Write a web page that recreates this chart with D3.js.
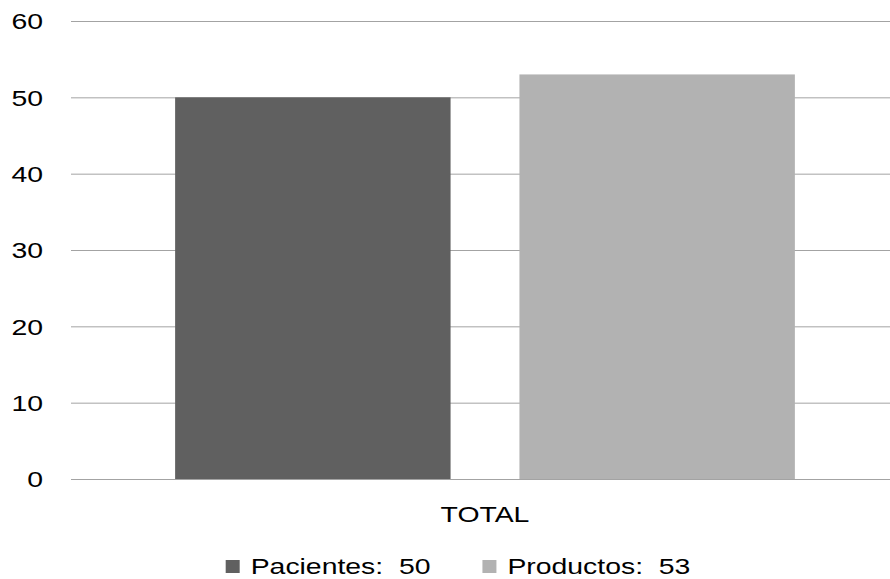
<!DOCTYPE html>
<html>
<head>
<meta charset="utf-8">
<script src="https://cdn.jsdelivr.net/npm/d3@7"></script>
<style>
  html, body { margin: 0; padding: 0; background: #fff; }
  svg { display: block; }
  text { font-family: "Liberation Sans", Arial, sans-serif; fill: #000; }
</style>
</head>
<body>
<div id="chart"></div>
<script>
// Data
const categories = ["TOTAL"];
const seriesNames = ["Pacientes", "Productos"];
const seriesValues = [50, 53];
const seriesColors = ["#606060", "#b2b2b2"];
const yTicks = [0, 10, 20, 30, 40, 50, 60];

const W = 890, H = 579;
const fontSize = 22;
const stretch = 1.29;          // wide lettering
const plot = { left: 71, right: 899, top: 21, bottom: 479 };

const svg = d3.select("#chart").append("svg")
  .attr("width", W).attr("height", H);

const y = d3.scaleLinear().domain([0, 60]).range([plot.bottom, plot.top]);

const x0 = d3.scaleBand().domain(categories)
  .range([plot.left, plot.right]).paddingInner(0).paddingOuter(0.168);
const x1 = d3.scaleBand().domain(seriesNames)
  .range([0, x0.bandwidth()]).paddingInner(0.2).paddingOuter(0);

// Y axis with full-width gridlines
const yAxis = d3.axisLeft(y)
  .tickValues(yTicks)
  .tickSizeInner(-(W - plot.left))
  .tickSizeOuter(0)
  .tickPadding(28 / stretch);

const gy = svg.append("g")
  .attr("transform", `translate(${plot.left},0)`)
  .call(yAxis);
gy.select(".domain").remove();
gy.selectAll(".tick line").attr("stroke", "#a3a3a3").attr("stroke-width", 1);
gy.selectAll(".tick text")
  .attr("font-size", fontSize)
  .attr("font-family", "Liberation Sans, Arial, sans-serif")
  .attr("fill", "#000")
  .attr("dy", "0.36em")
  .attr("transform", `scale(${stretch},1)`);

// Bars
const bars = svg.append("g");
categories.forEach(cat => {
  bars.selectAll("rect.bar")
    .data(seriesNames.map((s, i) => ({ s, v: seriesValues[i], c: seriesColors[i] })))
    .join("rect")
    .attr("class", "bar")
    .attr("x", d => x0(cat) + x1(d.s))
    .attr("y", d => y(d.v))
    .attr("width", x1.bandwidth())
    .attr("height", d => y(0) - y(d.v))
    .attr("fill", d => d.c);
});

// Category label
categories.forEach(cat => {
  svg.append("g")
    .attr("transform", `translate(${x0(cat) + x0.bandwidth() / 2},${plot.bottom + 43}) scale(${stretch},1)`)
    .append("text")
    .attr("text-anchor", "middle")
    .attr("font-size", fontSize)
    .text(cat);
});

// Legend
const legend = svg.append("g");
const sq = 14, sqGap = 11, itemGap = 52;
const items = seriesNames.map((s, i) => {
  const g = legend.append("g");
  g.append("rect").attr("width", sq).attr("height", 13).attr("y", -13).attr("fill", seriesColors[i]);
  const tg = g.append("g").attr("transform", `translate(${sq + sqGap},0) scale(${stretch},1)`);
  const t = tg.append("text")
    .attr("font-size", fontSize)
    .attr("dy", "0.05em")
    .style("white-space", "pre")
    .text(`${s}:  ${seriesValues[i]}`);
  const w = sq + sqGap + t.node().getComputedTextLength() * stretch;
  return { g, w };
});
const total = d3.sum(items, d => d.w) + itemGap * (items.length - 1);
let cx = 458 - total / 2;
items.forEach(it => {
  it.g.attr("transform", `translate(${cx},573)`);
  cx += it.w + itemGap;
});
</script>
</body>
</html>
